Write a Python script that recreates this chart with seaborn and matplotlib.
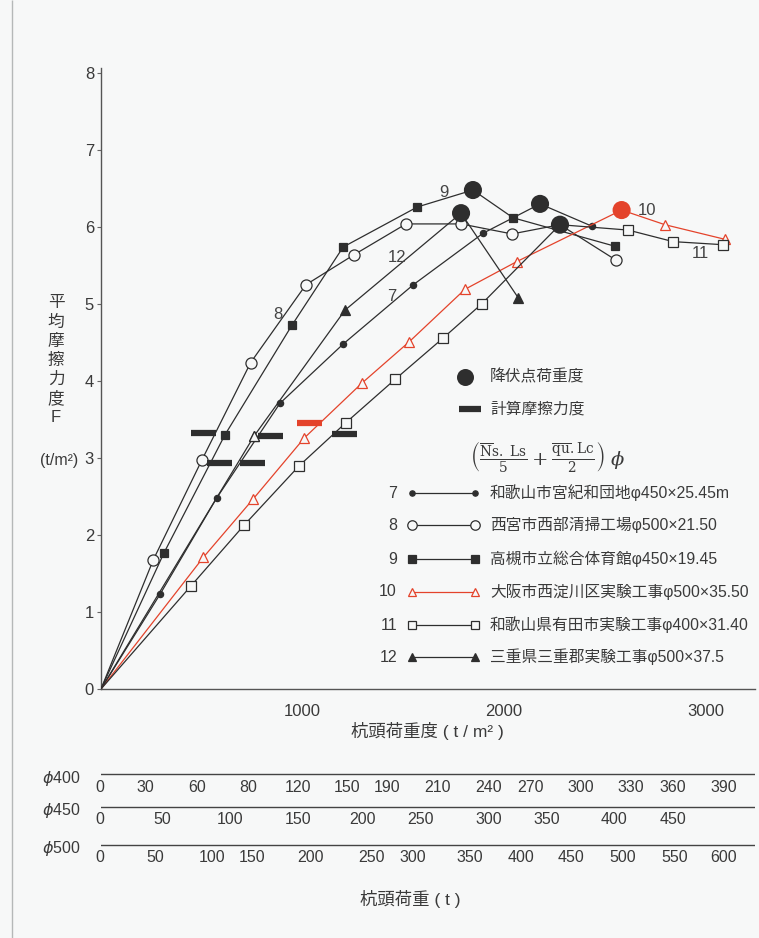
import seaborn as sns
import matplotlib.pyplot as plt

# 杭頭荷重度 (t/m2) - 平均摩擦力度 F (t/m2)
s7_x = [0, 293, 574, 888, 1202, 1550, 1897, 2179, 2437]
s7_y = [0, 1.23, 2.48, 3.71, 4.48, 5.25, 5.92, 6.30, 6.01]
s8_x = [0, 260, 500, 743, 1017, 1256, 1514, 1787, 2040, 2278, 2556]
s8_y = [0, 1.68, 2.97, 4.24, 5.25, 5.64, 6.04, 6.04, 5.91, 6.03, 5.57]
s9_x = [0, 313, 615, 949, 1202, 1570, 1846, 2045, 2551]
s9_y = [0, 1.77, 3.30, 4.73, 5.74, 6.26, 6.48, 6.12, 5.75]
s10_x = [0, 508, 756, 1009, 1294, 1530, 1806, 2063, 2584, 2799, 3097]
s10_y = [0, 1.71, 2.47, 3.26, 3.97, 4.51, 5.19, 5.55, 6.22, 6.03, 5.84]
s11_x = [0, 447, 711, 984, 1216, 1459, 1699, 1889, 2278, 2617, 2840, 3088]
s11_y = [0, 1.34, 2.13, 2.90, 3.46, 4.02, 4.56, 5.00, 6.03, 5.96, 5.81, 5.77]
s12_x = [0, 761, 1211, 1787, 2071]
s12_y = [0, 3.29, 4.92, 6.18, 5.08]

# 降伏点荷重度
yield_x = [2179, 2278, 1846, 2584, 1787]
yield_y = [6.30, 6.03, 6.48, 6.22, 6.18]
yield_red = [False, False, False, True, False]

# 計算摩擦力度
calc_x = [509, 588, 752, 839, 1037, 1208]
calc_y = [3.33, 2.94, 2.94, 3.29, 3.46, 3.31]
calc_red = [False, False, False, False, True, False]

# series number labels on the curves
lab_txt = ["9", "8", "12", "7", "10", "11"]
lab_x = [1702, 880, 1467, 1443, 2708, 2973]
lab_y = [6.45, 4.86, 5.61, 5.10, 6.21, 5.66]

legend_nums = ["7", "8", "9", "10", "11", "12"]
legend_names = [
    "和歌山市宮紀和団地φ450×25.45m",
    "西宮市西部清掃工場φ500×21.50",
    "高槻市立総合体育館φ450×19.45",
    "大阪市西淀川区実験工事φ500×35.50",
    "和歌山県有田市実験工事φ400×31.40",
    "三重県三重郡実験工事φ500×37.5",
]

# 杭頭荷重 (t) scales per pile diameter, with positions on the t/m2 axis
p400_lab = [0, 30, 60, 80, 120, 150, 190, 210, 240, 270, 300, 330, 360, 390]
p400_pos = [-6, 221, 475, 733, 976, 1219, 1422, 1670, 1924, 2132, 2381, 2629, 2837, 3091]
p450_lab = [0, 50, 100, 150, 200, 250, 300, 350, 400, 450]
p450_pos = [-6, 306, 641, 976, 1300, 1588, 1924, 2212, 2547, 2837]
p500_lab = [0, 50, 100, 150, 200, 250, 300, 350, 400, 450, 500, 550, 600]
p500_pos = [-6, 267, 549, 752, 1041, 1341, 1547, 1831, 2085, 2334, 2587, 2848, 3091]

BG = "#f7f8f8"
INK = "#2e2e2e"
TXT = "#3a3a3a"
RED = "#e4432b"

sns.set_theme(style="white")
plt.rcParams['font.family'] = ['Liberation Sans', 'Noto Sans CJK JP', 'DejaVu Sans']

fig = plt.figure(figsize=(7.59, 9.38), dpi=100, facecolor=BG)
W, H = 759, 938
ax = fig.add_axes([101 / W, (H - 689) / H, 654 / W, 621 / H])
ax.set_facecolor("none")
ax.set_xlim(0, 3246)
ax.set_ylim(0, 8.065)

series = [
    (s7_x, s7_y, "o", INK, INK, 4.5),
    (s8_x, s8_y, "o", BG, INK, 8),
    (s9_x, s9_y, "s", INK, INK, 6),
    (s10_x, s10_y, "^", BG, RED, 7.5),
    (s11_x, s11_y, "s", BG, INK, 7),
    (s12_x, s12_y, "^", INK, INK, 6.5),
]
for xs, ys, mk, face, col, ms in series:
    sns.lineplot(x=xs, y=ys, ax=ax, color=col, lw=0.9, marker=mk, markersize=ms,
                 markerfacecolor=face, markeredgecolor=col, markeredgewidth=0.9,
                 markevery=list(range(1, len(xs))), sort=False, estimator=None,
                 zorder=3)

# the first point of 12 is printed hollow in the original
ax.plot(s12_x[1], s12_y[1], marker="^", markersize=7, markerfacecolor=BG,
        markeredgecolor=INK, markeredgewidth=0.9, zorder=3.5)

for x, y, r in zip(calc_x, calc_y, calc_red):
    ax.hlines(y, x - 62, x + 62, color=RED if r else INK, lw=4.5, zorder=4)

sns.scatterplot(x=yield_x, y=yield_y, ax=ax, s=170, linewidth=0,
                c=[RED if r else INK for r in yield_red], zorder=5, legend=False)

for t, x, y in zip(lab_txt, lab_x, lab_y):
    ax.text(x, y, t, fontsize=12, color="#444444", ha="center", va="center", zorder=6)

sns.despine(ax=ax)
for side in ["left", "bottom"]:
    ax.spines[side].set_color("#555555")
    ax.spines[side].set_linewidth(1.0)
ax.set_yticks(range(0, 9))
ax.set_xticks([1000, 2000, 3000])
ax.tick_params(axis="y", length=3, width=0.8, color="#666666", labelsize=12,
               labelcolor=TXT, pad=2, left=True)
ax.tick_params(axis="x", length=0, labelsize=12, labelcolor=TXT, pad=11)
ax.set_xlabel("")
ax.set_ylabel("")

# overlay in pixel coordinates for labels and legend
ov = fig.add_axes([0, 0, 1, 1], zorder=10)
ov.set_xlim(0, W)
ov.set_ylim(H, 0)
ov.axis("off")
ov.patch.set_alpha(0)
ov.vlines(12, 0, H, color="#b5b8b8", lw=1)

for i, ch in enumerate("平均摩擦力度F"):
    ov.text(56, 303 + 19 * i, ch, fontsize=12, color=TXT, ha="center", va="center")
ov.text(59, 461, "(t/m²)", fontsize=11.5, color=TXT, ha="center", va="center")
ov.text(427, 731, "杭頭荷重度 ( t / m² )", fontsize=12.5, color=TXT, ha="center", va="center")
ov.text(410, 899, "杭頭荷重 ( t )", fontsize=12.5, color=TXT, ha="center", va="center")

# legend
ov.scatter([465], [377], s=150, color=INK, linewidth=0)
ov.text(490, 377, "降伏点荷重度", fontsize=11.3, color=TXT, va="center")
ov.hlines(409, 459, 481, color=INK, lw=4.5)
ov.text(490, 409, "計算摩擦力度", fontsize=11.3, color=TXT, va="center")
ov.text(548, 456,
        r'$\left(\frac{\overline{\mathrm{N}}\mathrm{s.\ Ls}}{5}+\frac{\overline{\mathrm{qu}}\mathrm{.Lc}}{2}\right)\ \phi$',
        fontsize=14, color=TXT, ha="center", va="center", math_fontfamily="dejavuserif")

row_y = [493, 525, 559, 592, 625, 657]
for i, (xs, ys, mk, face, col, ms) in enumerate(series):
    y = row_y[i]
    ov.text(397, y, legend_nums[i], fontsize=11.5, color=TXT, ha="right", va="center")
    ov.plot([412, 475], [y, y], color=col, lw=0.9, marker=mk, markersize=ms * 0.85,
            markerfacecolor=face, markeredgecolor=col, markeredgewidth=0.9)
    ov.text(490, y, legend_names[i], fontsize=11.3, color=TXT, va="center")

# pile-head load scales
axb = fig.add_axes([101 / W, 0, 654 / W, 1], zorder=9)
axb.set_xlim(0, 3246)
axb.set_ylim(H, 0)
axb.axis("off")
axb.patch.set_alpha(0)
rows = [("400", p400_lab, p400_pos, 774, 787),
        ("450", p450_lab, p450_pos, 807, 820),
        ("500", p500_lab, p500_pos, 845, 858)]
for dia, labs, pos, yl, yt in rows:
    axb.hlines(yl, -5, 3246, color="#444444", lw=1.0)
    for v, p in zip(labs, pos):
        axb.text(p, yt, str(v), fontsize=11.5, color=TXT, ha="center", va="center")
    ov.text(61, yl + 4, r"$\phi$" + dia, fontsize=11.5, color=TXT, ha="center", va="center")

fig.savefig("out.png", dpi=100, facecolor=BG)
